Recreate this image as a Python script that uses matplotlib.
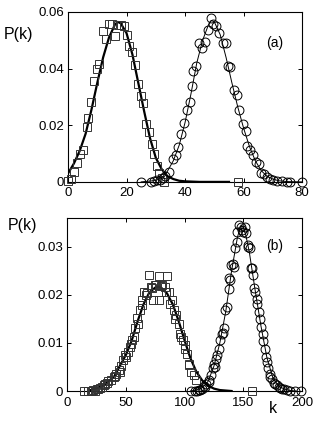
import matplotlib
matplotlib.use("Agg")
import matplotlib.pyplot as plt

plt.rcParams['font.family'] = ['Liberation Sans', 'DejaVu Sans']

# ---------------- panel (a) ----------------
a_sq_k = [0, 1, 2, 3, 4, 5, 6.5, 6.9, 8, 8.9, 9.9, 10.5, 11.8, 12.9, 13.9, 15.1, 16, 17.1,
          18.2, 19, 20, 21, 22, 22.9, 23.8, 24.8, 25.5, 26.7, 27.5, 28.6, 29.3, 30.3,
          31.2, 32.1, 32.9, 58]
a_sq_p = [0.0003, 0.0012, 0.0035, 0.0065, 0.0100, 0.0114, 0.0193, 0.0224, 0.0282, 0.0355,
          0.0400, 0.0416, 0.0534, 0.0506, 0.0556, 0.0556, 0.0514, 0.0553, 0.0553, 0.0550,
          0.0520, 0.0480, 0.0458, 0.0413, 0.0347, 0.0304, 0.0280, 0.0204, 0.0175, 0.0135,
          0.0097, 0.0055, 0.0032, 0.0014, 0.0, 0.0]

a_fit_k = [0, 2, 4, 6, 8, 10, 12, 14, 16, 17, 18, 20, 22, 24, 26, 28, 30, 32, 34, 36, 38,
           40, 45, 55]
a_fit_p = [0.0030, 0.0065, 0.0110, 0.0170, 0.0255, 0.0350, 0.0440, 0.0510, 0.0555, 0.0565,
           0.0560, 0.0525, 0.0450, 0.0350, 0.0250, 0.0155, 0.0085, 0.0045, 0.0020, 0.0010,
           0.0004, 0.0002, 0.0, 0.0]

a_ci_k = [24.9, 28.5, 29.5, 30.5, 31.5, 32.5, 33.3, 34.5, 35.8, 36.8, 37.7, 38.7, 39.8,
          40.7, 41.6, 42.5, 42.6, 43.8, 44.8, 45.7, 46.9, 47.7, 48.7, 49.7, 50.7, 51.6, 53,
          54, 54.6, 55.4, 56.6, 57.7, 58.3, 59.8, 60.7, 61.2, 62.3, 63.2, 64.3, 65.1, 66.1,
          66.9, 68, 69.1, 70, 71.4, 73, 74.9, 76, 79.8]
a_ci_p = [0.0, 0.0, 0.0002, 0.0005, 0.0008, 0.0013, 0.0020, 0.0035, 0.0081, 0.0095, 0.0125,
          0.0169, 0.0207, 0.0254, 0.0282, 0.0339, 0.0393, 0.0408, 0.0490, 0.0473, 0.0493,
          0.0535, 0.0578, 0.0556, 0.0550, 0.0526, 0.0490, 0.0490, 0.0410, 0.0405, 0.0326,
          0.0306, 0.0255, 0.0206, 0.0179, 0.0128, 0.0112, 0.0094, 0.0071, 0.0064, 0.0033,
          0.0028, 0.0018, 0.0012, 0.0005, 0.0002, 0.0002, 0.0, 0.0, 0.0]

a_line_k = [25, 30, 33, 36, 38, 40, 42, 44, 46, 48, 49, 50, 52, 54, 56, 58, 60, 62, 64, 66,
            68, 70, 72, 75, 80]
a_line_p = [0.0, 0.0005, 0.0020, 0.0075, 0.0130, 0.0210, 0.0310, 0.0420, 0.0500, 0.0555,
            0.0570, 0.0565, 0.0520, 0.0440, 0.0350, 0.0265, 0.0190, 0.0125, 0.0075, 0.0040,
            0.0020, 0.0010, 0.0004, 0.0001, 0.0]

a_xticks = [0, 20, 40, 60, 80]
a_yticks = [0, 0.02, 0.04, 0.06]
a_yticklabels = ["0", "0.02", "0.04", "0.06"]

# ---------------- panel (b) ----------------
b_sq_k = [14, 17.6, 20.4, 23.5, 25.5, 27.8, 29.8, 32, 34, 37, 39.7, 42, 44, 46, 47.7, 49.6,
          51.6, 53.9, 55.6, 56.7, 58.2, 59.6, 61.8, 63.8, 65.2, 67.2, 69.5, 71.5, 73, 75.2,
          78, 78, 80.9, 83, 85, 86.5, 89.4, 90.8, 93, 95, 97, 98.7, 100.7, 102, 103.5, 105.5,
          107.8, 110, 157.4,
          22, 26, 31, 35, 41, 45, 50, 54, 60, 64, 68, 72, 76, 80, 84, 88, 92, 96, 100, 104]
b_sq_p = [0.0, 0.0, 0.0, 0.0001, 0.0004, 0.0006, 0.0008, 0.0014, 0.0017, 0.0022, 0.0029,
          0.0035, 0.0043, 0.0053, 0.0065, 0.0074, 0.0081, 0.0092, 0.0106, 0.0113, 0.0130,
          0.0151, 0.0168, 0.0189, 0.0206, 0.0199, 0.0241, 0.0217, 0.0189, 0.0220, 0.0239,
          0.0189, 0.0220, 0.0217, 0.0239, 0.0206, 0.0189, 0.0168, 0.0158, 0.0140, 0.0113,
          0.0106, 0.0095, 0.0078, 0.0057, 0.0040, 0.0033, 0.0022, 0.0,
          0.0002, 0.0005, 0.0012, 0.0020, 0.0031, 0.0040, 0.0070, 0.0098, 0.0140, 0.0178,
          0.0203, 0.0215, 0.0220, 0.0218, 0.0205, 0.0180, 0.0150, 0.0118, 0.0088, 0.0055]

b_fit_k = [20, 30, 40, 50, 55, 60, 65, 70, 75, 78, 80, 85, 90, 95, 100, 105, 110, 115, 120,
           125, 130, 140]
b_fit_p = [0.0002, 0.0010, 0.0030, 0.0075, 0.0105, 0.0145, 0.0180, 0.0205, 0.0215, 0.0217,
           0.0215, 0.0203, 0.0180, 0.0145, 0.0105, 0.0068, 0.0040, 0.0022, 0.0011, 0.0005,
           0.0002, 0.0]

b_ci_k = [105.8, 108.7, 110.6, 113, 115, 116.9, 118.6, 120.6, 122.6, 124, 125.4, 127, 129,
          130.5, 131.9, 133.3, 134.8, 136, 137.6, 139, 139.9, 141.8, 143.3, 144.7, 146, 148,
          150, 152.6, 153.8, 155.5, 156.6, 158, 160.3, 161.7, 163, 165.1, 166.8, 168.2,
          169.6, 171, 172.5, 174.5, 176.5, 178.7, 181.6, 184.4, 187.2, 190, 194.3, 199.4,
          112, 117, 121, 126, 128, 133, 138, 141, 145, 149, 151, 154, 157, 159, 162, 164,
          167, 170, 173, 177, 180, 183]
b_ci_p = [0.0, 0.0, 0.0001, 0.0003, 0.0005, 0.0010, 0.0014, 0.0022, 0.0033, 0.0047, 0.0057,
          0.0067, 0.0088, 0.0106, 0.0119, 0.0130, 0.0168, 0.0175, 0.0213, 0.0231, 0.0262,
          0.0258, 0.0297, 0.0310, 0.0345, 0.0342, 0.0331, 0.0328, 0.0303, 0.0297, 0.0255,
          0.0241, 0.0206, 0.0192, 0.0165, 0.0133, 0.0119, 0.0088, 0.0071, 0.0047, 0.0036,
          0.0026, 0.0017, 0.0012, 0.0007, 0.0004, 0.0003, 0.0001, 0.0, 0.0,
          0.0002, 0.0008, 0.0018, 0.0050, 0.0075, 0.0120, 0.0235, 0.0265, 0.0330, 0.0335,
          0.0340, 0.0300, 0.0255, 0.0215, 0.0180, 0.0150, 0.0105, 0.0060, 0.0030, 0.0015,
          0.0008, 0.0005]

b_line_k = [105, 110, 115, 120, 125, 130, 135, 140, 145, 148, 150, 152, 155, 160, 165, 170,
            175, 180, 185, 190, 195]
b_line_p = [0.0, 0.0002, 0.0007, 0.0020, 0.0052, 0.0100, 0.0165, 0.0250, 0.0320, 0.0345,
            0.0340, 0.0325, 0.0290, 0.0210, 0.0135, 0.0070, 0.0028, 0.0010, 0.0004, 0.0001,
            0.0]

b_xticks = [0, 50, 100, 150, 200]
b_yticks = [0, 0.01, 0.02, 0.03]
b_yticklabels = ["0", "0.01", "0.02", "0.03"]

fig = plt.figure(figsize=(3.18, 4.28), dpi=100)
ax1 = fig.add_axes([0.214, 0.575, 0.736, 0.397])
ax2 = fig.add_axes([0.211, 0.0864, 0.739, 0.4046])

sq_style = dict(linestyle='none', marker='s', markersize=5.2, markerfacecolor='none',
                markeredgecolor='#333333', markeredgewidth=0.7, clip_on=False, zorder=3)
ci_style = dict(linestyle='none', marker='o', markersize=6.4, markerfacecolor='none',
                markeredgecolor='black', markeredgewidth=0.7, clip_on=False, zorder=3)

def style(ax, xt, yt, ytl, xlim, ylim):
    ax.set_xlim(*xlim)
    ax.set_ylim(*ylim)
    ax.set_xticks(xt)
    ax.set_xticklabels([str(v) for v in xt])
    ax.set_yticks(yt)
    ax.set_yticklabels(ytl)
    ax.tick_params(direction='in', length=3, width=0.7, top=True, right=True,
                   labelsize=9.5)
    ax.tick_params(axis='x', pad=4)
    ax.tick_params(axis='y', pad=3)
    for s in ax.spines.values():
        s.set_linewidth(0.8)

# panel (a)
ax1.plot(a_fit_k, a_fit_p, color='black', lw=1.6, zorder=2)
ax1.plot(a_line_k, a_line_p, color='black', lw=0.7, zorder=2)
ax1.plot(a_sq_k, a_sq_p, **sq_style)
ax1.plot(a_ci_k, a_ci_p, **ci_style)
style(ax1, a_xticks, a_yticks, a_yticklabels, (0, 80), (0, 0.06))
ax1.text(0.92, 0.82, "(a)", transform=ax1.transAxes, ha='right', va='center', fontsize=10)
fig.text(0.012, 0.92, "P(k)", ha='left', va='center', fontsize=11.5)

# panel (b)
ax2.plot(b_fit_k, b_fit_p, color='black', lw=1.6, zorder=2)
ax2.plot(b_line_k, b_line_p, color='black', lw=0.7, zorder=2)
ax2.plot(b_sq_k, b_sq_p, **sq_style)
ax2.plot(b_ci_k, b_ci_p, **ci_style)
style(ax2, b_xticks, b_yticks, b_yticklabels, (0, 200), (0, 0.036))
ax2.text(0.92, 0.84, "(b)", transform=ax2.transAxes, ha='right', va='center', fontsize=10)
fig.text(0.025, 0.473, "P(k)", ha='left', va='center', fontsize=11.5)
fig.text(0.858, 0.045, "k", ha='center', va='center', fontsize=11.5)

fig.savefig("out.png", dpi=100)
